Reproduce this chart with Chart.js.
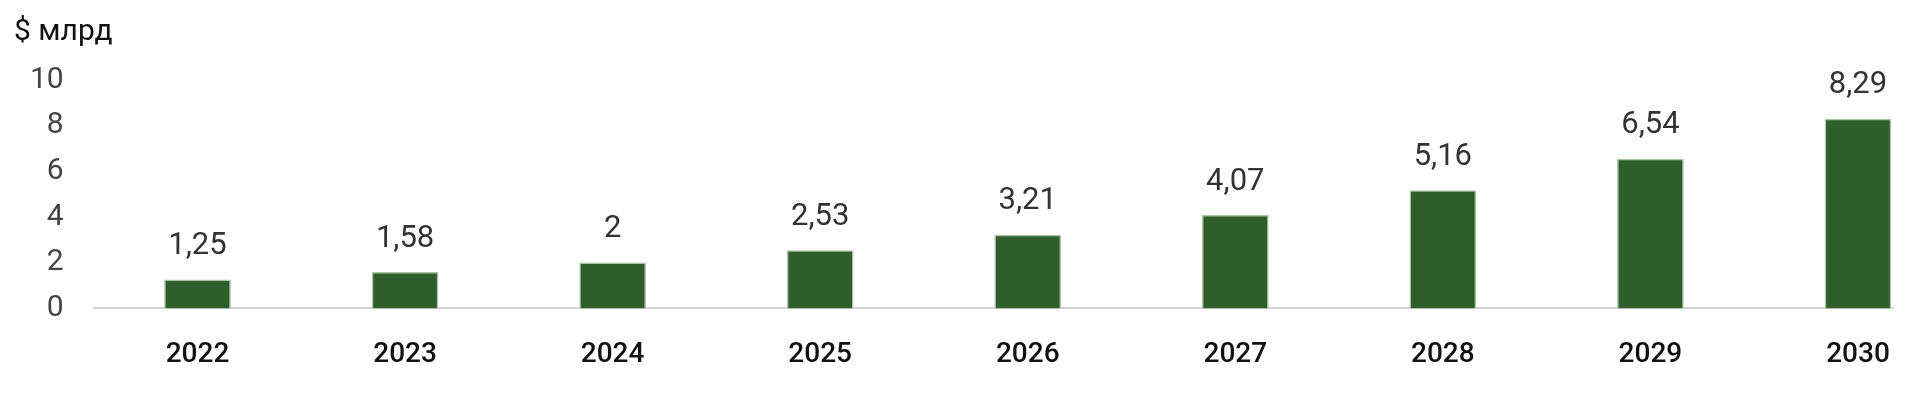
<!DOCTYPE html>
<html>
<head>
<meta charset="utf-8">
<script src="https://cdn.jsdelivr.net/npm/chart.js@4"></script>
<style>
  html, body { margin: 0; padding: 0; background: #fff; }
  #wrap { width: 1920px; height: 402px; }
</style>
</head>
<body>
<div id="wrap"><canvas id="mainChart"></canvas></div>
<script>
const years = ['2022', '2023', '2024', '2025', '2026', '2027', '2028', '2029', '2030'];
const values = [1.25, 1.58, 2, 2.53, 3.21, 4.07, 5.16, 6.54, 8.29];
const yTicks = [0, 2, 4, 6, 8, 10];

const font = 'Roboto, "Noto Sans", sans-serif';

const extras = {
  id: 'extras',
  afterDraw(chart) {
    const { ctx } = chart;
    ctx.save();
    ctx.font = '30px ' + font;
    ctx.fillStyle = '#111';
    ctx.textBaseline = 'middle';
    ctx.textAlign = 'left';
    ctx.fillText('$ млрд', 14, 32);
    const meta = chart.getDatasetMeta(0);
    ctx.fillStyle = '#333';
    ctx.textAlign = 'center';
    ctx.textBaseline = 'bottom';
    ctx.font = '31px ' + font;
    meta.data.forEach((bar, i) => {
      ctx.fillText(String(values[i]).replace('.', ','), bar.x, bar.y - 18);
    });
    ctx.restore();
  }
};

new Chart(document.getElementById('mainChart'), {
  type: 'bar',
  data: {
    datasets: [{
      data: values.map((v, i) => ({ x: i, y: v })),
      backgroundColor: '#2f5e2c',
      borderColor: '#a9c3a5',
      borderWidth: 1.5,
      borderSkipped: 'bottom',
      barThickness: 66,
    }],
  },
  options: {
    responsive: true,
    maintainAspectRatio: false,
    animation: false,
    layout: { padding: { top: 80, left: 0, right: 10, bottom: 0 } },
    plugins: { legend: { display: false }, tooltip: { enabled: false } },
    scales: {
      x: {
        type: 'linear',
        offset: false,
        min: -0.5,
        max: 8.17,
        afterBuildTicks: (axis) => { axis.ticks = years.map((_, i) => ({ value: i })); },
        grid: { display: false, drawTicks: false },
        border: { color: '#d4d4d4', width: 2 },
        ticks: {
          padding: 30,
          color: '#111',
          font: { family: font, size: 28, weight: '500' },
          callback: (v) => years[v],
        },
      },
      y: {
        min: 0,
        max: 10,
        afterBuildTicks: (axis) => { axis.ticks = yTicks.map((v) => ({ value: v })); },
        grid: { display: false, drawTicks: false },
        border: { display: false },
        ticks: {
          padding: 30,
          color: '#444',
          font: { family: font, size: 30 },
        },
      },
    },
  },
  plugins: [extras],
});
</script>
</body>
</html>
